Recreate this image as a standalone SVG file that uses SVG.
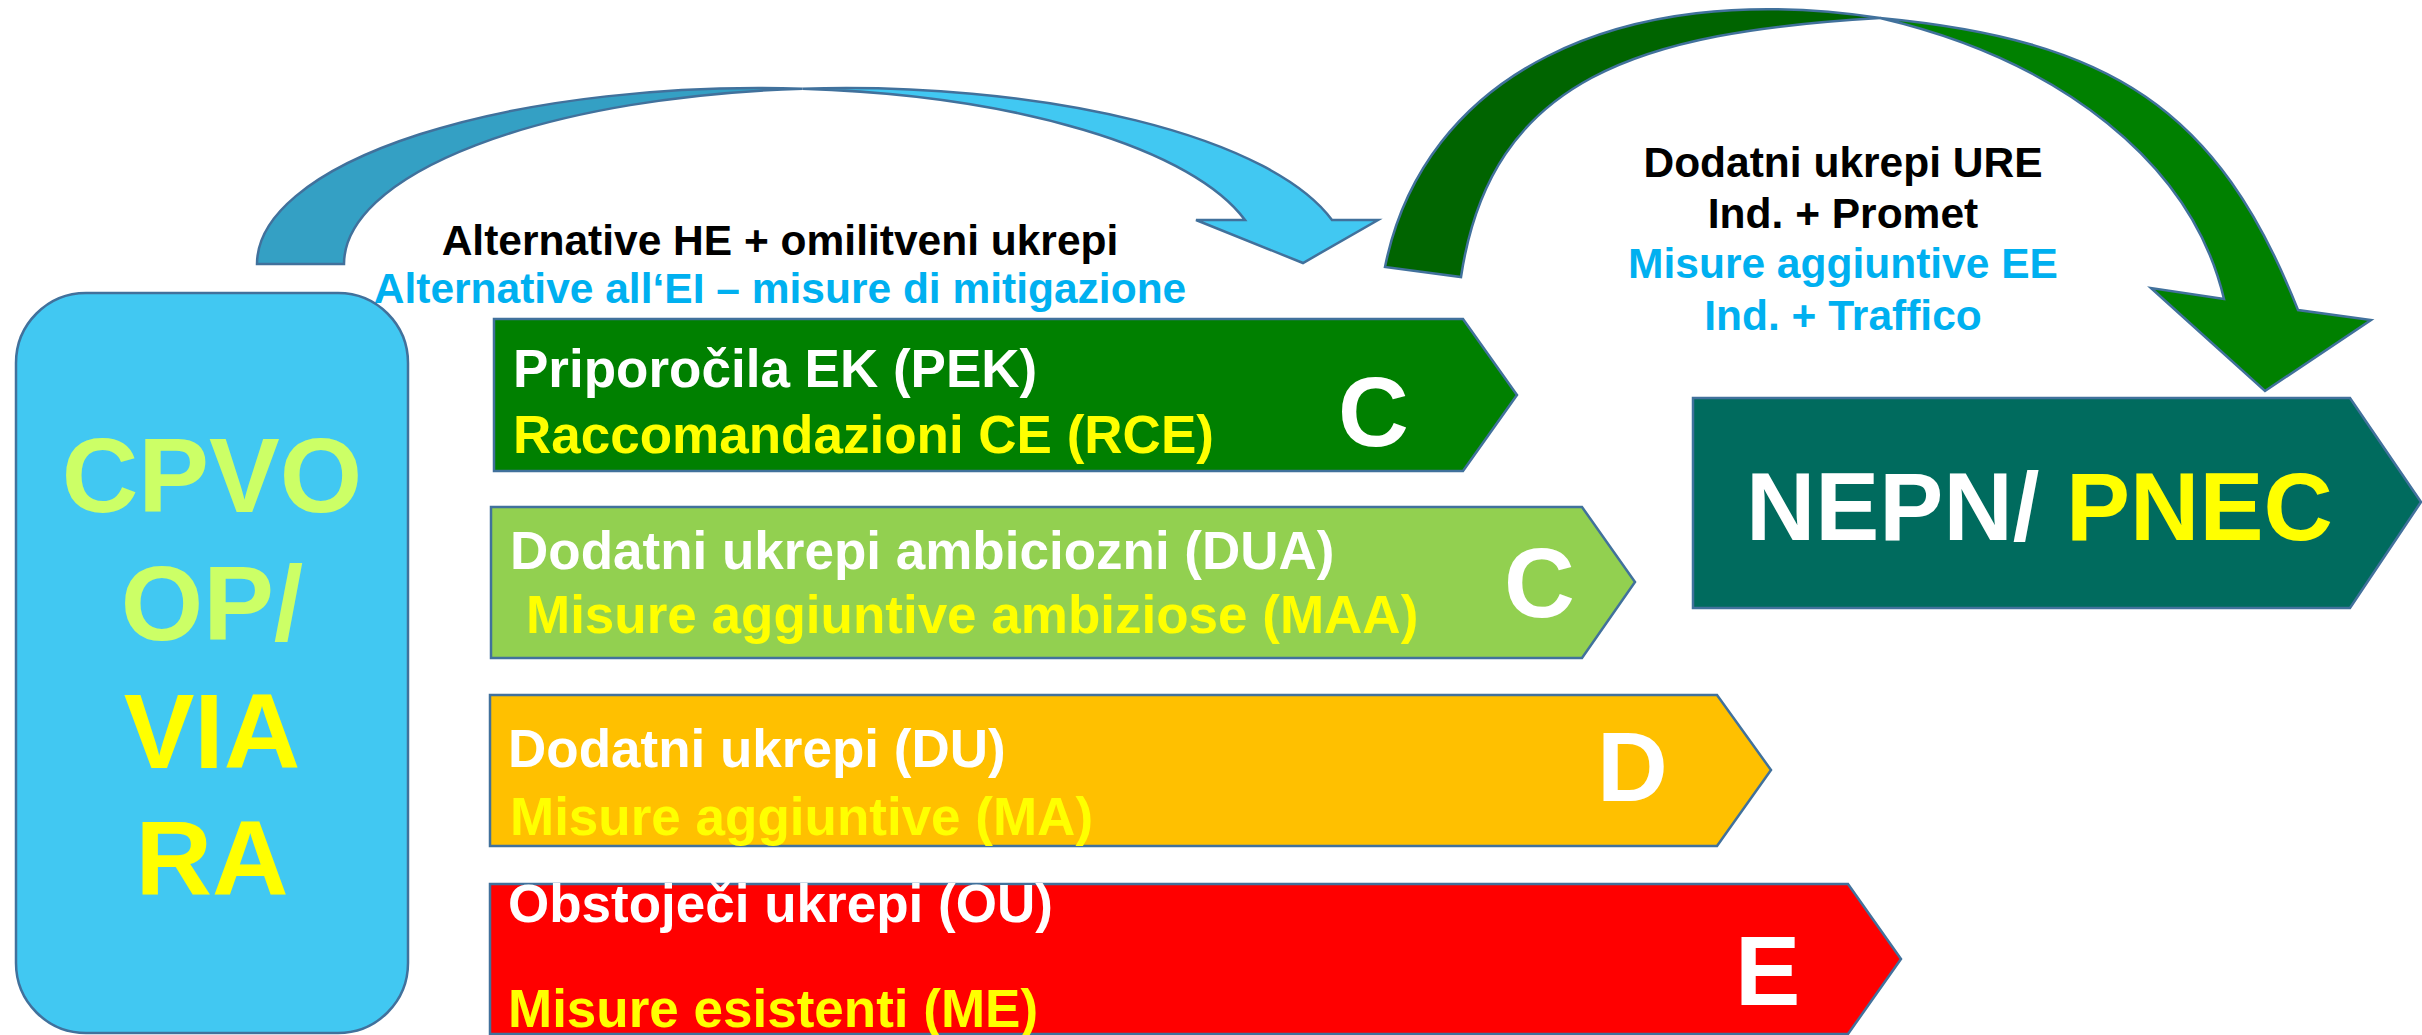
<svg xmlns="http://www.w3.org/2000/svg" width="2422" height="1035" viewBox="0 0 2422 1035">
<style>
  text { font-family: "Liberation Sans", Arial, sans-serif; font-weight: bold; }
  .edge { stroke: #41719C; stroke-width: 2.5; stroke-linejoin: miter; }
  .w { fill: #FFFFFF; }
  .y { fill: #FFFF00; }
  .k { fill: #000000; }
  .c { fill: #00B0F0; }
  .bar { font-size: 53px; }
  .lbl { font-size: 42.5px; }
  .big { font-size: 98px; fill: #FFFFFF; }
</style>
<rect x="0" y="0" width="2422" height="1035" fill="#FFFFFF"/>

<g id="connectors">
  <g id="arrow-blue">
    <path class="edge" fill="#34A0C4" d="M257,264 A502,176 0 0 1 802.5,88.7 A502,176 0 0 0 344,264 Z"/>
    <path class="edge" fill="#41C8F2" d="M802.5,88.7 A502,176 0 0 1 1332,220 L1378,220 L1303,263 L1196,220 L1245,220 A502,176 0 0 0 802.5,88.7 Z"/>
  </g>
  <g id="arrow-green">
    <path class="edge" fill="#006400" d="M1385,267 C1423,77 1615,-22 1880,18 C1640,32 1491,77 1461,277 Z"/>
    <path class="edge" fill="#008000" d="M1880,18 C2110,40 2218,108 2298,310 L2371,320 L2265,391 L2151,288 L2224,299 C2192,163 2060,60 1880,18 Z"/>
  </g>
</g>

<g id="label-blue">
  <text class="lbl k" x="780" y="255" text-anchor="middle">Alternative HE + omilitveni ukrepi</text>
  <text class="lbl c" x="780" y="303" text-anchor="middle">Alternative all‘EI – misure di mitigazione</text>
</g>
<g id="label-green">
  <text class="lbl k" x="1843" y="177" text-anchor="middle">Dodatni ukrepi URE</text>
  <text class="lbl k" x="1843" y="228" text-anchor="middle">Ind. + Promet</text>
  <text class="lbl c" x="1843" y="278" text-anchor="middle">Misure aggiuntive EE</text>
  <text class="lbl c" x="1843" y="330" text-anchor="middle">Ind. + Traffico</text>
</g>

<g id="cpvo">
  <rect class="edge" x="16" y="293" width="392" height="740" rx="70" ry="70" fill="#41C8F2"/>
  <text x="212" y="512" text-anchor="middle" font-size="106" fill="#CCFF66">CPVO</text>
  <text x="212" y="640" text-anchor="middle" font-size="106" fill="#CCFF66">OP/</text>
  <text x="212" y="768" text-anchor="middle" font-size="106" fill="#FFFF00">VIA</text>
  <text x="212" y="895" text-anchor="middle" font-size="106" fill="#FFFF00">RA</text>
</g>

<g id="bar-pek">
  <polygon class="edge" fill="#008000" points="494,319 1463,319 1517,395 1463,471 494,471"/>
  <text class="bar w" x="513" y="387">Priporočila EK (PEK)</text>
  <text class="bar y" x="513" y="453">Raccomandazioni CE (RCE)</text>
  <text class="big" x="1338" y="446">C</text>
</g>

<g id="bar-dua">
  <polygon class="edge" fill="#92D050" points="491,507 1582,507 1635,582 1582,658 491,658"/>
  <text class="bar w" x="510" y="569">Dodatni ukrepi ambiciozni (DUA)</text>
  <text class="bar y" x="526" y="633">Misure aggiuntive ambiziose (MAA)</text>
  <text class="big" x="1504" y="617">C</text>
</g>

<g id="bar-du">
  <polygon class="edge" fill="#FFC000" points="490,695 1717,695 1771,770 1717,846 490,846"/>
  <text class="bar w" x="508" y="767">Dodatni ukrepi (DU)</text>
  <text class="bar y" x="510" y="835">Misure aggiuntive (MA)</text>
  <text class="big" x="1597" y="801">D</text>
</g>

<g id="bar-ou">
  <polygon class="edge" fill="#FF0000" points="490,884 1848,884 1901,959 1848,1034 490,1034"/>
  <text class="bar w" x="508" y="922">Obstoječi ukrepi (OU)</text>
  <text class="bar y" x="508" y="1027">Misure esistenti (ME)</text>
  <text class="big" x="1735" y="1005" font-size="87">E</text>
</g>

<g id="nepn">
  <polygon class="edge" fill="#006B5E" points="1693,398 2350,398 2421,502 2350,608 1693,608"/>
  <text x="1746" y="540" font-size="96"><tspan fill="#FFFFFF">NEPN/ </tspan><tspan fill="#FFFF00">PNEC</tspan></text>
</g>
</svg>
